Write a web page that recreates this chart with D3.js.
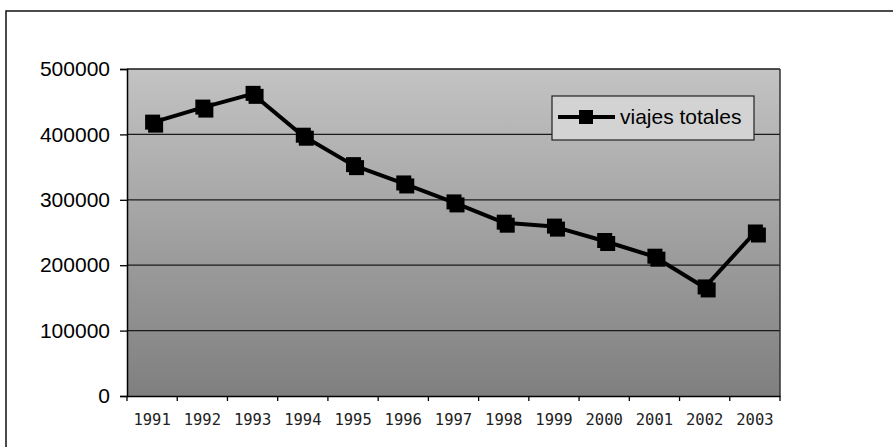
<!DOCTYPE html>
<html><head><meta charset="utf-8">
<script src="https://cdn.jsdelivr.net/npm/d3@7"></script>
<style>html,body{margin:0;padding:0;background:#fff;overflow:hidden}</style>
</head><body>
<svg id="c" width="893" height="447"></svg>
<script>
const years = ["1991","1992","1993","1994","1995","1996","1997","1998","1999","2000","2001","2002","2003"];
const viajesTotales = [418000, 441000, 462000, 398000, 353000, 325000, 296000, 265000, 259000, 237000, 213000, 166000, 250000];
const yTicks = [0, 100000, 200000, 300000, 400000, 500000];
const seriesName = "viajes totales";

const svg = d3.select("#c");
const L = 127, R = 780, T = 69, B = 396;

// outer frame (extends beyond canvas on right/bottom)
svg.append("rect").attr("x", 6).attr("y", 11).attr("width", 1000).attr("height", 1000)
  .attr("fill", "none").attr("stroke", "#111").attr("stroke-width", 1.5);

const defs = svg.append("defs");
const g = defs.append("linearGradient").attr("id", "bg").attr("x1", 0).attr("y1", 0).attr("x2", 0).attr("y2", 1);
g.append("stop").attr("offset", "0%").attr("stop-color", "#c3c3c3");
g.append("stop").attr("offset", "100%").attr("stop-color", "#7f7f7f");

const x = d3.scaleBand().domain(years).range([L, R]).padding(0);
const y = d3.scaleLinear().domain([0, 500000]).range([B, T]);

svg.append("rect").attr("x", L).attr("y", T).attr("width", R - L).attr("height", B - T).attr("fill", "url(#bg)");

// gridlines
svg.append("g").selectAll("line").data(yTicks.filter(d => d > 0)).join("line")
  .attr("x1", L).attr("x2", R).attr("y1", d => y(d)).attr("y2", d => y(d))
  .attr("stroke", "#1a1a1a").attr("stroke-width", 1.3);

// plot border right
svg.append("line").attr("x1", R).attr("x2", R).attr("y1", T).attr("y2", B).attr("stroke", "#333").attr("stroke-width", 1.5);

// y axis
const yAxis = d3.axisLeft(y).tickValues(yTicks).tickSize(7).tickPadding(10).tickFormat(d3.format("d"));
const ya = svg.append("g").attr("transform", `translate(${L},0)`).call(yAxis);
ya.select(".domain").attr("stroke", "#000").attr("stroke-width", 1.5);
ya.selectAll(".tick line").attr("stroke", "#000").attr("stroke-width", 1.3);
ya.selectAll("text").attr("font-family", "Liberation Sans, Arial, sans-serif").attr("font-size", 21).attr("fill", "#000");

// x axis
const xAxis = d3.axisBottom(x).tickSize(0).tickPadding(0);
const xa = svg.append("g").attr("transform", `translate(0,${B})`).call(xAxis);
xa.select(".domain").attr("stroke", "#000").attr("stroke-width", 1.5);
xa.selectAll("text").attr("font-family", "DejaVu Sans Mono, monospace").attr("font-size", 15.5).attr("fill", "#222").attr("dy", "0").attr("y", 29);
// tick marks at band boundaries
svg.append("g").selectAll("line").data(years.map((d) => x(d)).concat([R])).join("line")
  .attr("x1", d => d).attr("x2", d => d).attr("y1", B).attr("y2", B + 5)
  .attr("stroke", "#000").attr("stroke-width", 1.3);

const cx = d => x(d) + x.bandwidth() / 2;
const line = d3.line().x((d, i) => cx(years[i])).y(d => y(d));
svg.append("path").datum(viajesTotales).attr("d", line).attr("fill", "none")
  .attr("stroke", "#000").attr("stroke-width", 4).attr("stroke-linejoin", "round");

const mk = svg.append("g").selectAll("g").data(viajesTotales).join("g")
  .attr("transform", (d, i) => `translate(${cx(years[i])},${y(d)})`);
mk.append("rect").attr("x", -7).attr("y", -8).attr("width", 15).attr("height", 15).attr("fill", "#000");
mk.append("rect").attr("x", -4).attr("y", -5).attr("width", 15).attr("height", 15).attr("fill", "#000");

// legend
const lg = svg.append("g");
lg.append("rect").attr("x", 552).attr("y", 96).attr("width", 202).attr("height", 44)
  .attr("fill", "#d3d3d3").attr("stroke", "#222").attr("stroke-width", 1.2);
lg.append("line").attr("x1", 558).attr("x2", 615).attr("y1", 117).attr("y2", 117).attr("stroke", "#000").attr("stroke-width", 4);
lg.append("rect").attr("x", 579).attr("y", 110).attr("width", 14).attr("height", 14).attr("fill", "#000");
lg.append("text").attr("x", 620).attr("y", 124).attr("font-family", "Liberation Sans, Arial, sans-serif")
  .attr("font-size", 21).attr("fill", "#000").text(seriesName);
</script>
</body></html>
